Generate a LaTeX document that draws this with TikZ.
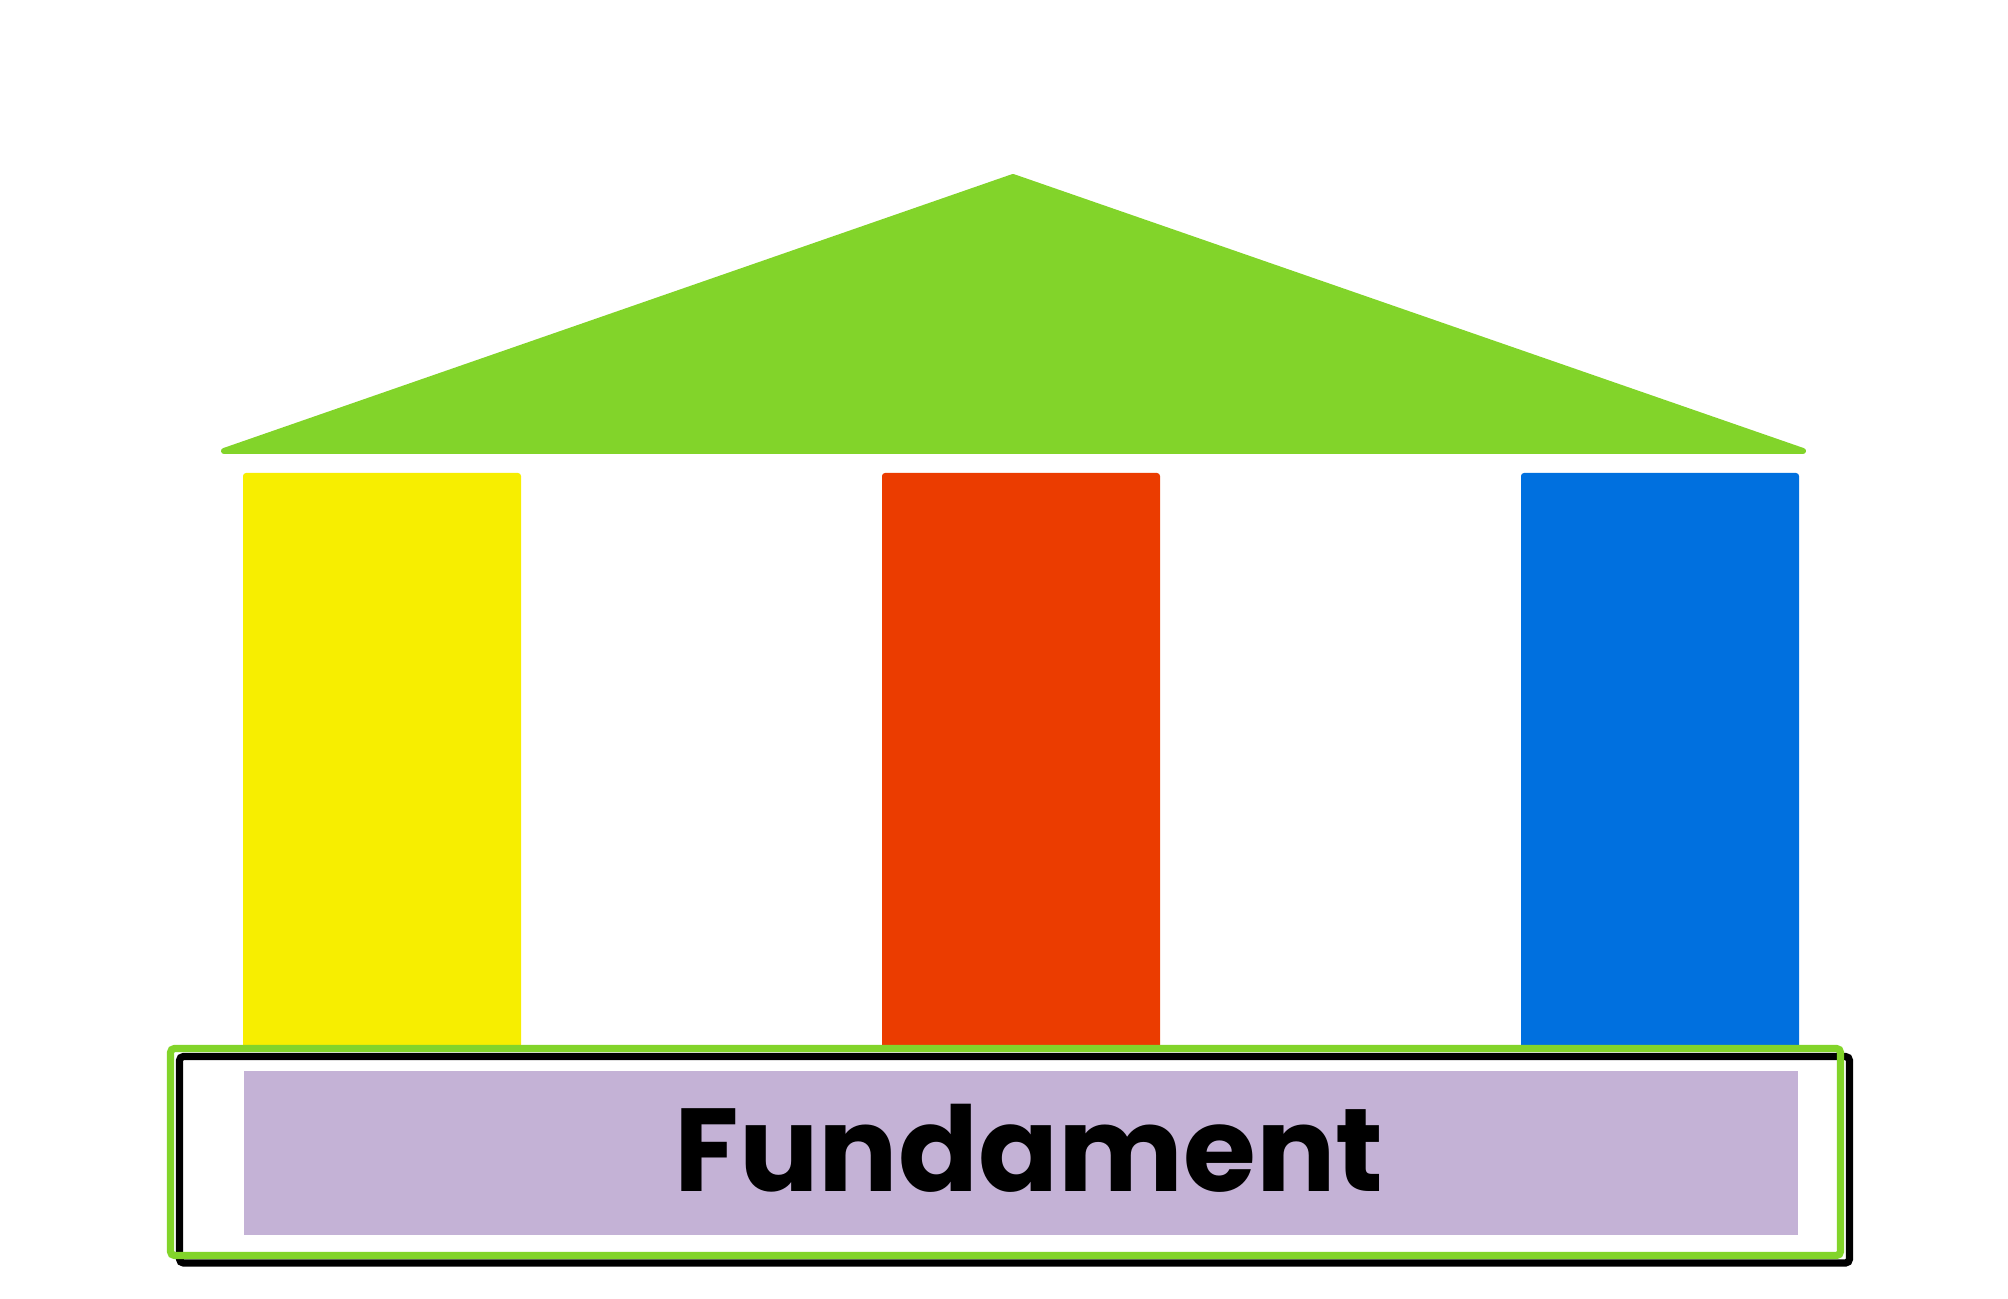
\documentclass[tikz,border=0pt]{standalone}
\usepackage{fontspec}
\setmainfont{Poppins}
\usepackage{tikz}
\usetikzlibrary{positioning}
\definecolor{roofgreen}{HTML}{82D42A}
\definecolor{pillaryellow}{HTML}{F7EE00}
\definecolor{pillarred}{HTML}{EB3C00}
\definecolor{pillarblue}{HTML}{0070DF}
\definecolor{basepurple}{HTML}{C4B2D6}

\begin{document}
\begin{tikzpicture}[x=0.5pt,y=-0.5pt,
    pillar/.style={rounded corners=1.5pt},
    frame/.style={line width=3.6pt,rounded corners=2pt}]
	  \useasboundingbox (0,0) rectangle (2008,1299);
	  % Draw the roof
	  \filldraw [roofgreen,line width=3pt,line join=round]
	      (1013,177) coordinate (apex) -- (1803,451) coordinate (eave_r)
	      -- (224,451) coordinate (eave_l) -- cycle;
	  % Draw the three pillars
	  \fill[pillaryellow,pillar] (243,1050) -- (243,473) -- (521,473) -- (521,1050) -- cycle;
	  \fill[pillarred,pillar] (882,1050) -- (882,473) -- (1160,473) -- (1160,1050) -- cycle;
	  \fill[pillarblue,pillar] (1521,1050) -- (1521,473) -- (1799,473) -- (1799,1050) -- cycle;
	  % Draw the foundation
	  \fill[white] (170,1048) rectangle (1840,1256);
	  \fill[basepurple] (244,1071) rectangle (1798,1235);
	  \draw[black,frame] (179.5,1056.5) rectangle (1849.5,1263);
	  \draw[roofgreen,frame] (170.5,1048.5) rectangle (1840.5,1255.5);
	  \node (base) [anchor=base,inner sep=0pt] at (1029,1191)
	      {\fontsize{59}{59}\selectfont\bfseries Fundament};
      \end{tikzpicture}
\end{document}
